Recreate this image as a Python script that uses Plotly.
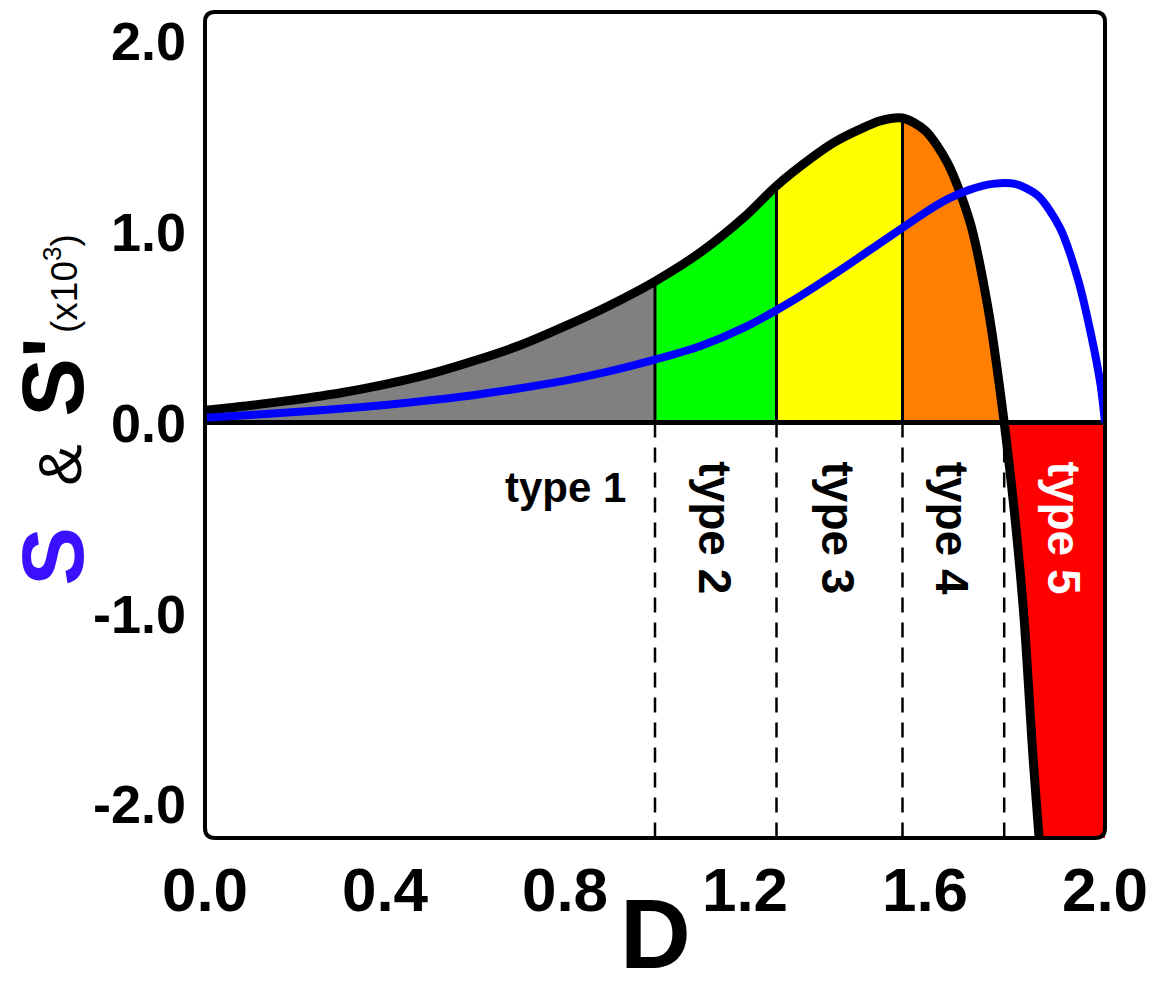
import numpy as np
import plotly.graph_objects as go

# S' (black) curve, in units of 10^3
d_sp = [0.0, 0.1, 0.2, 0.3, 0.4, 0.5, 0.6, 0.7, 0.8, 0.9, 1.0, 1.1, 1.2, 1.27,
        1.35, 1.4, 1.45, 1.5, 1.55, 1.6, 1.65, 1.7, 1.74, 1.776, 1.80, 1.82,
        1.84, 1.855, 1.87]
s_prime = [0.065, 0.09, 0.12, 0.155, 0.20, 0.255, 0.325, 0.405, 0.505, 0.615, 0.74,
           0.89, 1.08, 1.24, 1.39, 1.47, 1.53, 1.58, 1.595, 1.53, 1.36, 1.05,
           0.60, 0.0, -0.50, -1.02, -1.75, -2.22, -2.70]

# S (blue) curve
d_s = [0.0, 0.1, 0.2, 0.3, 0.4, 0.5, 0.6, 0.7, 0.8, 0.9, 1.0, 1.1, 1.2, 1.3,
       1.4, 1.5, 1.55, 1.6, 1.65, 1.7, 1.75, 1.8, 1.85, 1.9, 1.94, 1.97, 1.99, 2.0]
s_vals = [0.025, 0.04, 0.055, 0.072, 0.092, 0.117, 0.145, 0.18, 0.22, 0.27, 0.33,
          0.40, 0.50, 0.63, 0.78, 0.94, 1.02, 1.10, 1.17, 1.22, 1.25, 1.25,
          1.19, 1.02, 0.75, 0.45, 0.20, 0.0]

# type boundaries in D and region colours
bounds = [0.0, 1.0, 1.27, 1.55, 1.776]
region_colors = ["#808080", "#00ff00", "#ffff00", "#ff8000"]
type5_color = "#ff0000"

type_labels = ["type 1", "type 2", "type 3", "type 4", "type 5"]
label_d = [0.80, 1.134, 1.407, 1.66, 1.909]
label_y = [-0.34, -0.55, -0.55, -0.55, -0.55]
label_angle = [0, 90, 90, 90, 90]
label_size = [42, 46, 46, 46, 46]
label_color = ["black", "black", "black", "black", "white"]

x_ticks = [0.0, 0.4, 0.8, 1.2, 1.6, 2.0]
y_ticks = [-2.0, -1.0, 0.0, 1.0, 2.0]
x_range = [0.0, 2.0]
y_range = [-2.175, 2.15]

FONT = "Liberation Sans, Arial, Helvetica, sans-serif"

d_arr = np.array(d_sp)
sp_arr = np.array(s_prime)

fig = go.Figure()

# coloured areas under the positive part of S'
for i, col in enumerate(region_colors):
    a, b = bounds[i], bounds[i + 1]
    inside = (d_arr > a) & (d_arr < b)
    xs = [a, a] + list(d_arr[inside]) + [b, b]
    ys = [0.0, float(np.interp(a, d_arr, sp_arr))] + list(sp_arr[inside]) + \
         [float(np.interp(b, d_arr, sp_arr)), 0.0]
    fig.add_trace(go.Scatter(x=xs, y=ys, mode="lines", fill="toself",
                             fillcolor=col, line=dict(width=0),
                             hoverinfo="skip"))

# type 5: region right of the negative branch of S'
neg = d_arr >= bounds[-1]
xs5 = list(d_arr[neg]) + [x_range[1], x_range[1]]
ys5 = list(sp_arr[neg]) + [float(sp_arr[-1]), 0.0]
fig.add_trace(go.Scatter(x=xs5, y=ys5, mode="lines", fill="toself",
                         fillcolor=type5_color, line=dict(width=0),
                         hoverinfo="skip"))

# dashed separators below zero
for b in bounds[1:]:
    fig.add_trace(go.Scatter(x=[b, b], y=[0, y_range[0]], mode="lines",
                             line=dict(color="black", width=2.5, dash="15px,10px"),
                             hoverinfo="skip"))

# zero line
fig.add_trace(go.Scatter(x=x_range, y=[0, 0], mode="lines",
                         line=dict(color="black", width=5), hoverinfo="skip"))

# solid separators inside the filled area
for b in bounds[1:4]:
    fig.add_trace(go.Scatter(x=[b, b], y=[0, float(np.interp(b, d_arr, sp_arr))],
                             mode="lines", line=dict(color="black", width=3),
                             hoverinfo="skip"))

# S' curve
fig.add_trace(go.Scatter(x=d_sp, y=s_prime, mode="lines",
                         line=dict(color="black", width=9, shape="spline", smoothing=0.8),
                         name="S'"))
# S curve
fig.add_trace(go.Scatter(x=d_s, y=s_vals, mode="lines",
                         line=dict(color="#0000ff", width=8, shape="spline", smoothing=0.8),
                         name="S"))

for txt, dx, dy, ang, sz, col in zip(type_labels, label_d, label_y, label_angle,
                                      label_size, label_color):
    fig.add_annotation(x=dx, y=dy, text=txt, showarrow=False, textangle=ang,
                       font=dict(family=FONT, size=sz, color=col, weight="bold"))

# y axis title, drawn as separate rotated pieces (paper coordinates)
ytitle_parts = [
    ("S", -0.1704, 0.3414, 88, "#3a10ff", "bold"),
    ("&amp;", -0.1615, 0.4516, 62, "black", "normal"),
    ("S'", -0.1704, 0.558, 88, "black", "bold"),
    ("(x10<sup>3</sup>)", -0.160, 0.6707, 37, "black", "normal"),
]
for txt, px, py, sz, col, wt in ytitle_parts:
    fig.add_annotation(xref="paper", yref="paper", x=px, y=py, text=txt,
                       showarrow=False, textangle=-90, xanchor="center",
                       yanchor="middle",
                       font=dict(family=FONT, size=sz, color=col, weight=wt))

# x axis title
fig.add_annotation(xref="paper", yref="paper", x=0.5, y=-0.1162, text="D",
                   showarrow=False, xanchor="center", yanchor="middle",
                   font=dict(family=FONT, size=98, color="black", weight="bold"))

# rounded frame around the plotting area
r_x, r_y = 10 / 901, 10 / 826
frame = (f"M {r_x},0 L {1 - r_x},0 Q 1,0 1,{r_y} L 1,{1 - r_y} Q 1,1 {1 - r_x},1 "
         f"L {r_x},1 Q 0,1 0,{1 - r_y} L 0,{r_y} Q 0,0 {r_x},0 Z")
fig.add_shape(type="path", path=frame, xref="x domain", yref="y domain",
              line=dict(color="black", width=4), layer="above")

fig.update_layout(
    width=1149, height=989,
    margin=dict(l=205, r=44, t=12, b=151, autoexpand=False),
    plot_bgcolor="white", paper_bgcolor="white",
    showlegend=False,
    xaxis=dict(range=x_range, tickvals=x_ticks,
               ticktext=[f"{v:.1f}" for v in x_ticks],
               showgrid=False, zeroline=False, showline=False, ticks="",
               automargin=False, ticklabelstandoff=10,
               tickfont=dict(family=FONT, size=62, color="black", weight="bold")),
    yaxis=dict(range=y_range, tickvals=y_ticks,
               ticktext=[f"{v:.1f}" for v in y_ticks],
               showgrid=False, zeroline=False, showline=False, ticks="",
               automargin=False, ticklabelstandoff=18,
               tickfont=dict(family=FONT, size=54, color="black", weight="bold")),
)

fig.write_html("out.html")
